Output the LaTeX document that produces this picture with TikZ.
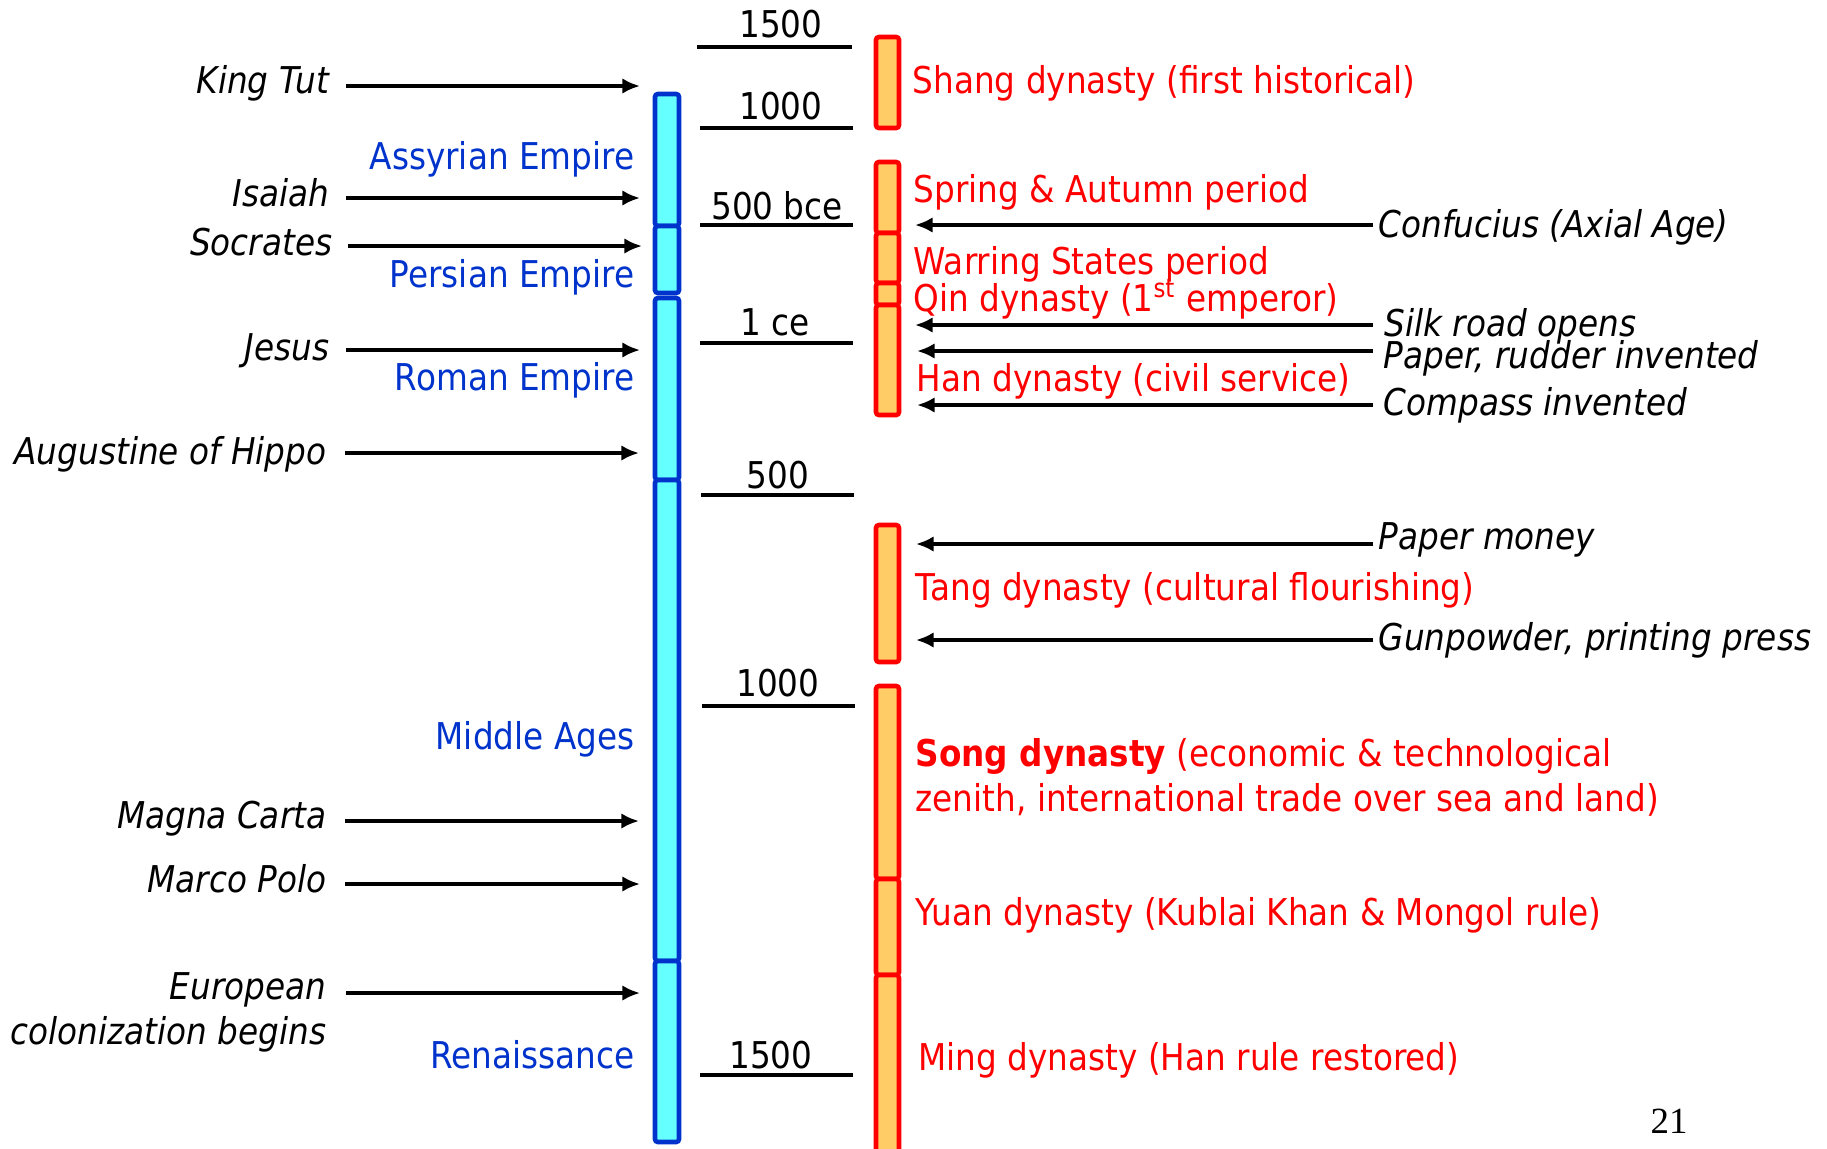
\documentclass[tikz,border=0pt]{standalone}
\usepackage{fontspec}
\setmainfont{DejaVu Sans}[FakeStretch=0.885]
\newfontfamily\slidenumfont{Liberation Serif}
\usepackage{tikz}
\usetikzlibrary{arrows.meta, positioning}
\usepackage{xcolor}
\definecolor{empireblue}{RGB}{0,51,204}
\definecolor{empirefill}{RGB}{102,255,255}
\definecolor{dynastyred}{RGB}{255,0,0}
\definecolor{dynastyfill}{RGB}{255,204,102}

\begin{document}
\fontsize{10.5pt}{12.6pt}\selectfont
\begin{tikzpicture}[x=0.01cm, y=-0.01cm]
  \tikzset{
    westlabel/.style={
      font=\itshape,
      anchor=base east,
      inner sep=0pt
    },
    eastlabel/.style={
      font=\itshape,
      anchor=base west,
      inner sep=0pt
    },
    empire/.style={
      text=empireblue,
      anchor=base east,
      inner sep=0pt
    },
    dynasty/.style={
      text=dynastyred,
      anchor=base west,
      inner sep=0pt
    },
    year/.style={
      anchor=base,
      inner sep=0pt
    },
    tick/.style={line width=0.95pt},
    event/.style={
      line width=0.95pt,
      -{Latex[length=5pt, width=4.4pt]}
    },
    empirebar/.style={
      draw=empireblue,
      fill=empirefill,
      line width=1.3pt,
      rounded corners=0.8pt
    },
    dynastybar/.style={
      draw=dynastyred,
      fill=dynastyfill,
      line width=1.3pt,
      rounded corners=0.8pt
    }
  }
  \useasboundingbox (0,0) rectangle (1827,1148);

  % Western empires (blue bar)
    \draw[empirebar] (655,94) rectangle (679,226);
    \draw[empirebar] (655,226) rectangle (679,293);
    \draw[empirebar] (655,298) rectangle (679,480);
    \draw[empirebar] (655,480) rectangle (679,961);
    \draw[empirebar] (655,961) rectangle (679,1142);

    \node[empire] (assyria) at (635,169) {Assyrian Empire};
    \node[empire] (persia) at (635,287) {Persian Empire};
    \node[empire] (rome) at (635,390) {Roman Empire};
    \node[empire] (middle) at (635,749) {Middle Ages};
    \node[empire] (renaissance) at (635,1068) {Renaissance};

  % Chinese dynasties (red bar)
    \begin{scope}
    \clip (860,0) rectangle (920,1148);
    \draw[dynastybar] (876,37) rectangle (899,128);
    \draw[dynastybar] (876,162) rectangle (899,233);
    \draw[dynastybar] (876,233) rectangle (899,283);
    \draw[dynastybar] (876,283) rectangle (899,305);
    \draw[dynastybar] (876,305) rectangle (899,415);
    \draw[dynastybar] (876,525) rectangle (899,662);
    \draw[dynastybar] (876,686) rectangle (899,879);
    \draw[dynastybar] (876,879) rectangle (899,975);
    \draw[dynastybar] (876,975) rectangle (899,1160);
    \end{scope}

    \node[dynasty] (shang) at (912,93) {Shang dynasty (first historical)};
    \node[dynasty] (spring) at (913,202) {Spring \& Autumn period};
    \node[dynasty] (warring) at (913,274) {Warring States period};
    \node[dynasty] (qin) at (913,311) {Qin dynasty (1\textsuperscript{st} emperor)};
    \node[dynasty] (han) at (916,391) {Han dynasty (civil service)};
    \node[dynasty] (tang) at (915,600) {Tang dynasty (cultural flourishing)};
    % base of a two-line node sits on its last line
    \node[dynasty, align=left] (song) at (915,811)
      {\textbf{Song dynasty} (economic \& technological\\zenith, international trade over sea and land)};
    \node[dynasty] (yuan) at (915,925) {Yuan dynasty (Kublai Khan \& Mongol rule)};
    \node[dynasty] (ming) at (918,1070) {Ming dynasty (Han rule restored)};

  % Year ticks
    \draw[tick] (697,47) -- (852,47);
    \node[year] (y1500bce) at (781,37) {1500};
    \draw[tick] (700,128) -- (853,128);
    \node[year] (y1000bce) at (781,119) {1000};
    \draw[tick] (700,225) -- (853,225);
    \node[year] (y500bce) at (777,219) {500 bce};
    \draw[tick] (700,343) -- (853,343);
    \node[year] (y1ce) at (775,335) {1 ce};
    \draw[tick] (701,495) -- (854,495);
    \node[year] (y500) at (778,488) {500};
    \draw[tick] (702,706) -- (855,706);
    \node[year] (y1000) at (778,696) {1000};
    \draw[tick] (700,1075) -- (853,1075);
    \node[year] (y1500) at (771,1068) {1500};

  % People and events in the West
    \node[westlabel] (tut) at (330,93) {King Tut};
    \coordinate (tut-tail) at (346,86);
    \coordinate (tut-head) at (640,86);
    \draw[event] (tut-tail) -- (tut-head);

    \node[westlabel] (isaiah) at (330,206) {Isaiah};
    \coordinate (isaiah-tail) at (346,198);
    \coordinate (isaiah-head) at (640,198);
    \draw[event] (isaiah-tail) -- (isaiah-head);

    \node[westlabel] (socrates) at (333,255) {Socrates};
    \coordinate (socrates-tail) at (348,246);
    \coordinate (socrates-head) at (642,246);
    \draw[event] (socrates-tail) -- (socrates-head);

    \node[westlabel] (jesus) at (330,360) {Jesus};
    \coordinate (jesus-tail) at (346,350);
    \coordinate (jesus-head) at (640,350);
    \draw[event] (jesus-tail) -- (jesus-head);

    \node[westlabel] (augustine) at (327,464) {Augustine of Hippo};
    \coordinate (augustine-tail) at (345,453);
    \coordinate (augustine-head) at (639,453);
    \draw[event] (augustine-tail) -- (augustine-head);

    \node[westlabel] (magna) at (327,828) {Magna Carta};
    \coordinate (magna-tail) at (345,821);
    \coordinate (magna-head) at (639,821);
    \draw[event] (magna-tail) -- (magna-head);

    \node[westlabel] (polo) at (327,892) {Marco Polo};
    \coordinate (polo-tail) at (345,884);
    \coordinate (polo-head) at (640,884);
    \draw[event] (polo-tail) -- (polo-head);

    \node[westlabel, align=right] (colonize) at (327,1044) {European\\colonization begins};
    \coordinate (colonize-tail) at (346,993);
    \coordinate (colonize-head) at (640,993);
    \draw[event] (colonize-tail) -- (colonize-head);

  % Inventions and people in China
    \node[eastlabel] (confucius) at (1378,237) {Confucius (Axial Age)};
    \coordinate (confucius-tail) at (1373,225);
    \coordinate (confucius-head) at (915,225);
    \draw[event] (confucius-tail) -- (confucius-head);

    \node[eastlabel] (silk) at (1384,336) {Silk road opens};
    \coordinate (silk-tail) at (1373,325);
    \coordinate (silk-head) at (915,325);
    \draw[event] (silk-tail) -- (silk-head);

    \node[eastlabel] (rudder) at (1383,368) {Paper, rudder invented};
    \coordinate (rudder-tail) at (1373,351);
    \coordinate (rudder-head) at (917,351);
    \draw[event] (rudder-tail) -- (rudder-head);

    \node[eastlabel] (compass) at (1383,415) {Compass invented};
    \coordinate (compass-tail) at (1373,405);
    \coordinate (compass-head) at (917,405);
    \draw[event] (compass-tail) -- (compass-head);

    \node[eastlabel] (money) at (1378,549) {Paper money};
    \coordinate (money-tail) at (1373,544);
    \coordinate (money-head) at (916,544);
    \draw[event] (money-tail) -- (money-head);

    \node[eastlabel] (gunpowder) at (1378,650) {Gunpowder, printing press};
    \coordinate (gunpowder-tail) at (1373,640);
    \coordinate (gunpowder-head) at (916,640);
    \draw[event] (gunpowder-tail) -- (gunpowder-head);

  % Slide number
    \node[year, font=\slidenumfont] (slidenum) at (1669,1133) {21};
\end{tikzpicture}
\end{document}
